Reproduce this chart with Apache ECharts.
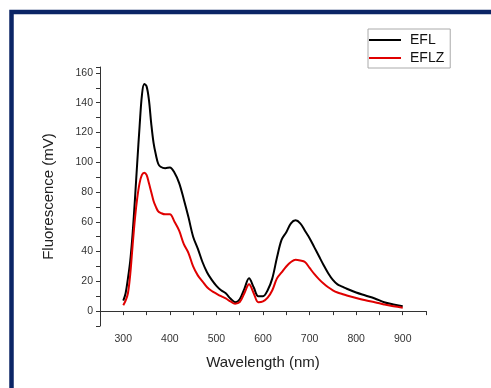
<!DOCTYPE html>
<html>
<head>
<meta charset="utf-8">
<script src="https://cdn.jsdelivr.net/npm/echarts@6/dist/echarts.min.js"></script>
<style>
  html, body { margin: 0; padding: 0; background: #fff; }
  #main { width: 491px; height: 388px; }
</style>
</head>
<body>
<div id="main"></div>
<script>
    // wavelength (nm)
    var wavelengths = [300, 305, 310, 315, 320, 325, 330, 335, 340, 345, 350, 355, 360, 365, 370, 375, 380,
        390, 400, 410, 420, 430, 440, 450, 460, 470, 480,
        490, 500, 510, 520, 530, 540, 550, 560, 570, 580,
        590, 600, 610, 620, 630, 640, 650, 660, 670, 680,
        690, 700, 710, 720, 730, 740, 750, 760, 770, 780,
        800, 820, 840, 860, 880, 900];
    // fluorescence (mV)
    var eflValues = [7, 12, 22, 34, 52, 75, 100, 124, 145, 152.5, 151, 142, 126, 113, 105, 99, 97,
        96, 96.5, 93, 86, 75, 63, 50, 42, 33, 26,
        21, 17, 14, 12, 8.5, 6, 8, 15, 22, 16,
        10, 10, 14, 22, 36, 48, 53, 59, 61, 59,
        54, 49, 43, 37, 31, 25.5, 21, 18, 16.5, 15,
        12.5, 10.5, 8.5, 6, 4.5, 3.3];
    var eflzValues = [4, 7, 12, 25, 44, 62, 76, 86, 91.5, 93, 91.5, 86, 80, 74, 70, 67, 66,
        65, 65, 60, 54, 45, 39, 30, 24, 20, 16,
        13.5, 11.7, 10, 8.5, 6.5, 5, 6, 12, 18, 12,
        6, 6.5, 9, 14, 22, 26, 30, 33, 34.5, 34,
        33, 29, 25, 21.5, 18.5, 16, 14, 12.5, 11.5, 10.5,
        8.8, 7.3, 6, 4.5, 3.2, 2.3];
    var seriesNames = ['EFL', 'EFLZ'];

    function pairs(xs, ys) {
        var out = [];
        for (var i = 0; i < xs.length; i++) {
            out.push([xs[i], ys[i]]);
        }
        return out;
    }

    var font = 'Liberation Sans, Arial, sans-serif';
    var myChart = echarts.init(document.getElementById('main'));

    var option = {
        animation: false,
        backgroundColor: '#fff',
        textStyle: { fontFamily: font },
        graphic: [
            {
                type: 'rect',
                shape: { x: 11.5, y: 12, width: 520, height: 420 },
                style: { fill: null, stroke: '#0b2566', lineWidth: 4.5 }
            }
        ],
        legend: {
            orient: 'vertical',
            left: 368,
            top: 29,
            padding: [4, 6, 3, 1],
            itemGap: 4,
            itemWidth: 32,
            itemHeight: 2,
            icon: 'rect',
            borderColor: '#aaa',
            borderWidth: 1,
            data: seriesNames,
            textStyle: { fontSize: 14, color: '#111', fontFamily: font, padding: [0, 0, 0, 4] }
        },
        grid: { left: 100, right: 65, top: 67, bottom: 62 },
        xAxis: {
            type: 'value',
            min: 250,
            max: 950,
            interval: 50,
            name: 'Wavelength (nm)',
            nameLocation: 'middle',
            nameGap: 29,
            nameTextStyle: { fontSize: 15, color: '#222', fontFamily: font },
            axisLine: { lineStyle: { color: '#333', width: 1 } },
            axisTick: { show: true, length: 4, lineStyle: { color: '#333' } },
            axisLabel: {
                fontSize: 10.5, color: '#333', margin: 8,
                formatter: function (v) { return (v % 100 === 0 && v >= 300 && v <= 900) ? v : ''; }
            },
            splitLine: { show: false }
        },
        yAxis: {
            type: 'value',
            min: -10,
            max: 164,
            interval: 10,
            name: 'Fluorescence (mV)',
            nameLocation: 'middle',
            nameRotate: 90,
            nameGap: 44,
            nameTextStyle: { fontSize: 15, color: '#222', fontFamily: font },
            axisLine: { show: true, lineStyle: { color: '#333', width: 1 } },
            axisTick: { show: true, length: 4, lineStyle: { color: '#333' } },
            axisLabel: {
                fontSize: 10.5, color: '#333', margin: 7,
                formatter: function (v) { return (v % 20 === 0 && v >= 0 && v <= 160) ? v : ''; }
            },
            splitLine: { show: false }
        },
        series: [
            {
                name: seriesNames[0],
                type: 'line',
                data: pairs(wavelengths, eflValues),
                smooth: 0.35,
                showSymbol: false,
                lineStyle: { color: '#000', width: 2 },
                itemStyle: { color: '#000' }
            },
            {
                name: seriesNames[1],
                type: 'line',
                data: pairs(wavelengths, eflzValues),
                smooth: 0.35,
                showSymbol: false,
                lineStyle: { color: '#e00000', width: 2 },
                itemStyle: { color: '#e00000' }
            }
        ]
    };
    myChart.setOption(option);
</script>
</body>
</html>
